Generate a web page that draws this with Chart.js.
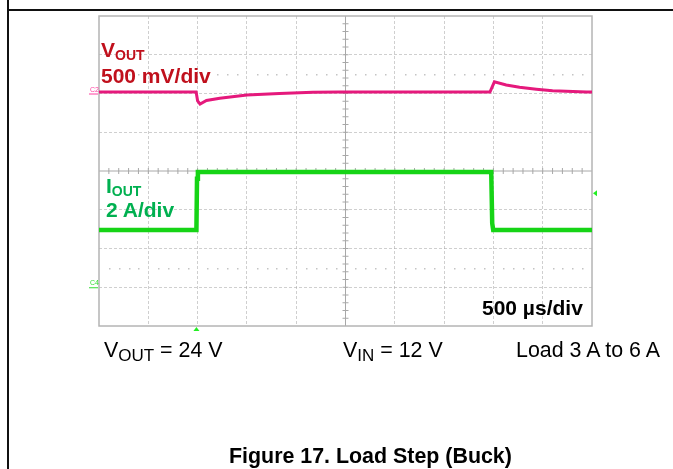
<!DOCTYPE html>
<html>
<head>
<meta charset="utf-8">
<script src="https://cdn.jsdelivr.net/npm/chart.js@4.4.0/dist/chart.umd.min.js"></script>
<style>
  html, body { margin: 0; padding: 0; background: #fff; }
  #wrap { position: relative; width: 673px; height: 469px; overflow: hidden; font-family: "Liberation Sans", Arial, sans-serif; }
  #scope { position: absolute; left: 0; top: 0; }
  .frame-v { position: absolute; left: 7px; top: 0; width: 2px; height: 469px; background: #111; }
  .frame-h { position: absolute; left: 7px; top: 9px; width: 666px; height: 2px; background: #111; }
  .lbl { position: absolute; white-space: nowrap; font-size: 21px; line-height: 21px; }
  .b { font-weight: bold; }
  .n, .cap { font-size: 21.4px; }
  .red { color: #c0101c; }
  .green { color: #00b050; }
  .sub { position: relative; }
  .b .sub { font-size: 14px; top: 3px; }
  .n .sub { font-size: 17px; top: 4px; }
</style>
</head>
<body>
<div id="wrap">
  <canvas id="scope" width="673" height="469"></canvas>
  <div class="frame-v"></div>
  <div class="frame-h"></div>

  <div class="lbl b red" style="left:101px;top:39px">V<span class="sub">OUT</span></div>
  <div class="lbl b red" style="left:101px;top:65px">500 mV/div</div>
  <div class="lbl b green" style="left:106px;top:175px">I<span class="sub">OUT</span></div>
  <div class="lbl b green" style="left:106px;top:199px">2 A/div</div>
  <div class="lbl b" style="left:482px;top:297px">500 µs/div</div>

  <div class="lbl n" style="left:104px;top:340px">V<span class="sub">OUT</span> = 24 V</div>
  <div class="lbl n" style="left:343px;top:340px">V<span class="sub">IN</span> = 12 V</div>
  <div class="lbl n" style="left:516px;top:340px">Load 3 A to 6 A</div>

  <div class="lbl b cap" style="left:229px;top:446px">Figure 17. Load Step (Buck)</div>
</div>

<script>
// scope settings: 500 us/div, 10 div wide, 8 div tall
const timeRangeUs = [0, 5000]
const timeDivUs = 500
const voutRangeMv = [-3000, 1000]   // 500 mV/div, C2 marker at 0 mV
const voutDivMv = 500
const ioutRangeA = [-2, 14]         // 2 A/div, C4 marker at 0 A

// VOUT deviation (mV)
const voutTimeUs = [0, 985, 1000, 1025, 1090, 1225, 1500, 1830, 2170, 2440, 3965, 4010, 4130, 4265, 4435, 4600, 4945, 5000]
const voutDevMv = [20, 20, -95, -135, -90, -60, -20, 0, 15, 18, 18, 150, 110, 80, 55, 35, 18, 18]

// IOUT (A)
const ioutTimeUs = [0, 988, 994, 1003, 3978, 3988, 3998, 5000]
const ioutAmps = [2.95, 2.95, 5.6, 5.95, 5.95, 3.3, 2.95, 2.95]

// trigger
const trigTimeUs = 988
const trigLevelA = 4.85

const gridColor = 'rgba(160,160,160,0.5)'
const axisColor = '#a8a8a8'

function toPoints( xs, ys ) {
  return xs.map( ( x, i ) => ( { x: x, y: ys[i] } ) )
}

const scopeDecor = {
  id: 'scopeDecor',
  beforeDatasetsDraw( chart ) {
    const { ctx, chartArea: a, scales } = chart
    const xs = scales.x
    const ys = scales.y
    const cx = xs.getPixelForValue( ( timeRangeUs[0] + timeRangeUs[1] ) / 2 )
    const cy = ys.getPixelForValue( ( voutRangeMv[0] + voutRangeMv[1] ) / 2 )
    const dx = xs.getPixelForValue( timeDivUs ) - xs.getPixelForValue( 0 )
    const dy = ys.getPixelForValue( 0 ) - ys.getPixelForValue( voutDivMv )

    ctx.save()
    // center axes
    ctx.strokeStyle = axisColor
    ctx.lineWidth = 1
    ctx.beginPath()
    ctx.moveTo( cx, a.top ); ctx.lineTo( cx, a.bottom )
    ctx.moveTo( a.left, cy ); ctx.lineTo( a.right, cy )
    ctx.stroke()

    // minor ticks on center axes
    ctx.beginPath()
    for ( let i = 1; i < 50; i++ ) {
      const x = a.left + i * dx / 5
      ctx.moveTo( x, cy - 3 ); ctx.lineTo( x, cy + 3 )
    }
    for ( let i = 1; i < 40; i++ ) {
      const y = a.top + i * dy / 5
      ctx.moveTo( cx - 3, y ); ctx.lineTo( cx + 3, y )
    }
    ctx.stroke()

    // dotted rows at +-2.5 div
    ctx.fillStyle = '#c4c4c4'
    ;[cy - 2.5 * dy, cy + 2.5 * dy].forEach( ( y ) => {
      for ( let i = 1; i < 50; i++ ) {
        if ( i % 5 === 0 ) continue
        ctx.fillRect( Math.round( a.left + i * dx / 5 ), Math.round( y ), 1.5, 1.5 )
      }
    } )

    // outer border
    ctx.strokeStyle = '#b4b4b4'
    ctx.lineWidth = 1.5
    ctx.strokeRect( a.left, a.top, a.right - a.left, a.bottom - a.top )
    ctx.restore()
  },
  afterDatasetsDraw( chart ) {
    const { ctx, chartArea: a, scales } = chart
    ctx.save()

    // channel ground markers
    const c2y = scales.y.getPixelForValue( 0 )
    const c4y = scales.y2.getPixelForValue( 0 )
    ctx.font = '7px "Liberation Sans", Arial, sans-serif'
    ctx.lineWidth = 1
    ctx.fillStyle = '#ff3fa0'
    ctx.strokeStyle = '#ff3fa0'
    ctx.fillText( 'C2', a.left - 9, c2y - 2 )
    ctx.beginPath(); ctx.moveTo( a.left - 10, c2y + 0.5 ); ctx.lineTo( a.left - 1, c2y + 0.5 ); ctx.stroke()
    ctx.fillStyle = '#33dd33'
    ctx.strokeStyle = '#33dd33'
    ctx.fillText( 'C4', a.left - 9, c4y - 2 )
    ctx.beginPath(); ctx.moveTo( a.left - 10, c4y + 0.5 ); ctx.lineTo( a.left - 1, c4y + 0.5 ); ctx.stroke()

    // trigger position (bottom) and trigger level (right)
    const tx = scales.x.getPixelForValue( trigTimeUs )
    ctx.fillStyle = '#22ee22'
    ctx.beginPath()
    ctx.moveTo( tx, a.bottom + 1 ); ctx.lineTo( tx - 3, a.bottom + 5 ); ctx.lineTo( tx + 3, a.bottom + 5 )
    ctx.closePath(); ctx.fill()
    const ty = scales.y2.getPixelForValue( trigLevelA )
    ctx.beginPath()
    ctx.moveTo( a.right + 1, ty ); ctx.lineTo( a.right + 5, ty - 3 ); ctx.lineTo( a.right + 5, ty + 3 )
    ctx.closePath(); ctx.fill()
    ctx.restore()
  },
}

function gridFor( edges, center ) {
  return ( c ) => {
    const v = c.tick && c.tick.value
    if ( v === edges[0] || v === edges[1] || v === center ) return 'rgba(0,0,0,0)'
    return gridColor
  }
}

new Chart( document.getElementById( 'scope' ).getContext( '2d' ), {
  type: 'line',
  data: {
    datasets: [
      {
        label: 'VOUT',
        data: toPoints( voutTimeUs, voutDevMv ),
        yAxisID: 'y',
        borderColor: '#e5197c',
        borderWidth: 3,
        pointRadius: 0,
        tension: 0,
      },
      {
        label: 'IOUT',
        data: toPoints( ioutTimeUs, ioutAmps ),
        yAxisID: 'y2',
        borderColor: '#16d416',
        borderWidth: 4.5,
        pointRadius: 0,
        tension: 0,
      },
    ],
  },
  options: {
    responsive: false,
    animation: false,
    devicePixelRatio: 1,
    layout: { padding: { left: 99, top: 16, right: 81, bottom: 143 } },
    plugins: { legend: { display: false }, tooltip: { enabled: false } },
    scales: {
      x: {
        type: 'linear',
        min: timeRangeUs[0],
        max: timeRangeUs[1],
        ticks: { display: false, stepSize: timeDivUs },
        grid: { color: gridFor( timeRangeUs, 2500 ), drawTicks: false, lineWidth: 1 },
        border: { display: false, dash: [3, 2] },
      },
      y: {
        min: voutRangeMv[0],
        max: voutRangeMv[1],
        ticks: { display: false, stepSize: voutDivMv },
        grid: { color: gridFor( voutRangeMv, -1000 ), drawTicks: false, lineWidth: 1 },
        border: { display: false, dash: [3, 2] },
      },
      y2: {
        display: false,
        min: ioutRangeA[0],
        max: ioutRangeA[1],
      },
    },
  },
  plugins: [scopeDecor],
} )
</script>
</body>
</html>
